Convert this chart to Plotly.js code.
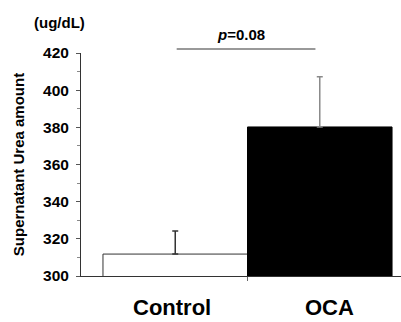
<!DOCTYPE html>
<html>
<head>
<meta charset="utf-8">
<script src="https://cdn.plot.ly/plotly-3.0.1.min.js"></script>
<style>html,body{margin:0;padding:0;background:#fff;}#chart{width:401px;height:322px;}</style>
</head>
<body>
<div id="chart"></div>
<script>
var categories = ['Control', 'OCA'];
var means = [311.8, 380.2];
var errors = [12.4, 27.0];
var barColors = ['#ffffff', '#000000'];
var lineColors = ['#333333', '#000000'];
var errColors = ['#333333', '#8a8a8a'];
var yTickVals = [300, 320, 340, 360, 380, 400, 420];
var pText = '<i>p</i>=0.08';
var unitText = '(ug/dL)';
var yTitle = 'Supernatant Urea amount';

var FONT = 'Arial, "Liberation Sans", Helvetica, sans-serif';

var traces = categories.map(function (c, i) {
  return {
    type: 'bar',
    x: [i],
    y: [means[i]],
    base: 0,
    width: 1,
    marker: {color: barColors[i], line: {color: lineColors[i], width: 1}},
    error_y: {type: 'data', symmetric: false, array: [errors[i]], arrayminus: [0],
              color: errColors[i], thickness: 1.5, width: 3},
    hoverinfo: 'none',
    showlegend: false
  };
});

var annotations = categories.map(function (c, i) {
  return {
    x: i, xref: 'x', y: 0, yref: 'paper', yanchor: 'bottom', xanchor: 'center',
    yshift: -46, xshift: i === 0 ? -3 : 10,
    text: c, showarrow: false,
    font: {family: FONT, size: 22, color: '#000', weight: 'bold'}
  };
});
annotations.push({
  x: 0.457, xref: 'x', y: 1.083, yref: 'paper', xanchor: 'center', yanchor: 'middle',
  text: pText, showarrow: false, font: {family: FONT, size: 15, color: '#000', weight: 'bold'}
});
annotations.push({
  x: -0.066, xref: 'paper', y: 1.135, yref: 'paper', xanchor: 'center', yanchor: 'middle',
  text: unitText, showarrow: false, font: {family: FONT, size: 15, color: '#000', weight: 'bold'}
});

var layout = {
  width: 401, height: 322,
  margin: {l: 81, r: 0, t: 53, b: 46, pad: 0},
  paper_bgcolor: '#fff', plot_bgcolor: '#fff',
  barmode: 'overlay',
  font: {family: FONT, color: '#000'},
  xaxis: {
    type: 'linear', range: [-0.652, 1.562],
    tickvals: [0.5], ticktext: [''], ticks: 'outside', ticklen: 4, tickcolor: '#666',
    showline: true, linecolor: '#333', linewidth: 1,
    showgrid: false, zeroline: false, fixedrange: true
  },
  yaxis: {
    range: [300, 420], tickvals: yTickVals,
    ticks: 'outside', ticklen: 4, tickcolor: '#555', tickwidth: 1,
    ticklabelstandoff: 4,
    minor: {dtick: 10, ticks: 'outside', ticklen: 3, tickcolor: '#888', showgrid: false},
    showline: true, linecolor: '#333', linewidth: 1,
    showgrid: false, zeroline: false,
    tickfont: {family: FONT, size: 15.5, color: '#000', weight: 'bold'},
    title: {text: yTitle, font: {family: FONT, size: 15, color: '#000', weight: 'bold'}, standoff: 14},
    fixedrange: true
  },
  shapes: [{
    type: 'line', xref: 'x', yref: 'paper', x0: 0.01, x1: 0.97, y0: 1.018, y1: 1.018,
    line: {color: '#999', width: 2}
  }],
  annotations: annotations
};

Plotly.newPlot('chart', traces, layout, {staticPlot: true, displayModeBar: false});
</script>
</body>
</html>
